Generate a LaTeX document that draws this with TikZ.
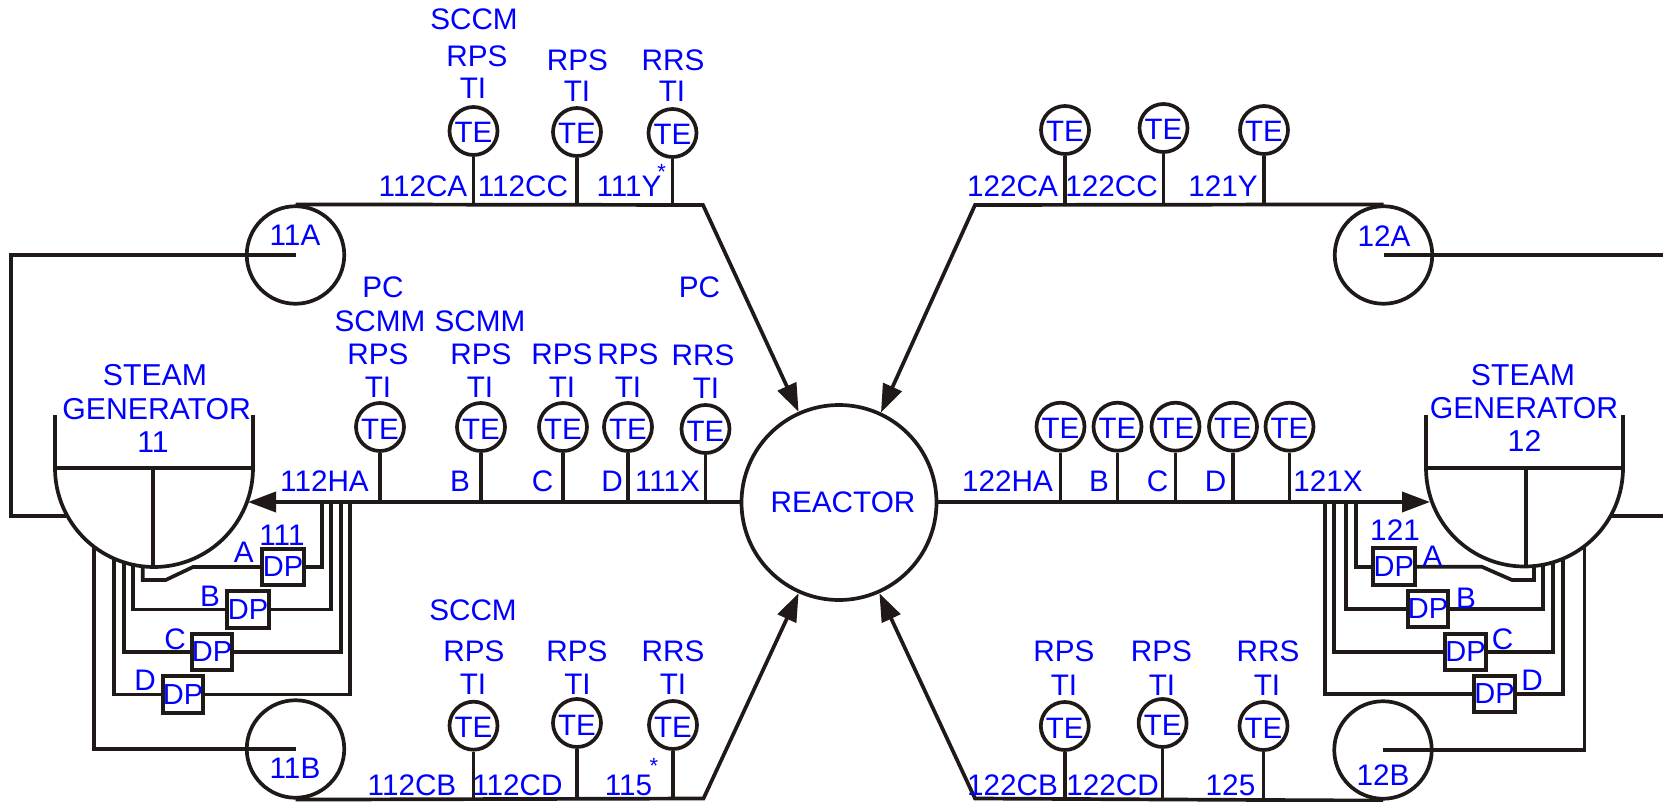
\documentclass[tikz,border=0pt]{standalone}
\usepackage{fontspec}
\setmainfont{Liberation Sans}
\usetikzlibrary{arrows.meta}
\definecolor{colorA}{rgb}{0,0,1}
\definecolor{colorB}{rgb}{0.12,0.1,0.09}
\begin{document}
\begin{tikzpicture}[
		x=1pt,y=-1pt,
		pipe/.style={draw=colorB, line width=3.7pt},
		flow/.style={pipe, -{Triangle[length=28pt,width=20pt]}},
		lbl/.style={colorA, anchor=base, inner sep=0pt, font=\fontsize{29.7}{31}\selectfont},
		gen/.style={lbl, font=\fontsize{30.2}{31}\selectfont},
		star/.style={colorA, inner sep=0pt, font=\fontsize{22}{22}\selectfont},
		te/.style={pipe, circle, fill=white, text=colorA, inner sep=0pt, minimum size=48pt, text height=24pt, font=\fontsize{29.5}{31}\selectfont},
		loopc/.style={pipe, circle, inner sep=0pt, minimum size=97.5pt},
		dp/.style={pipe, fill=white, text=colorA, inner sep=0pt, line width=4pt, minimum width=40.5pt, minimum height=36.5pt, font=\fontsize{29}{31}\selectfont},
	]
		\useasboundingbox (0,0) rectangle (1663,802);
		%
		\node[pipe, circle, inner sep=0pt, minimum size=195pt, text=colorA, font=\fontsize{29.7}{31}\selectfont] (reactor) at (839,502.5) {\hspace*{8pt}REACTOR};
		%
		\node[loopc] (loopA) at (295.5,255) {};
		\node[loopc] (loopB) at (295.5,749) {};
		\node[loopc] (loopC) at (1383.5,255) {};
		\node[loopc] (loopD) at (1383,750) {};
		\coordinate (cornerA) at (703,205);
		\coordinate (cornerB) at (703.5,798.5);
		\coordinate (cornerC) at (975,205);
		\coordinate (cornerD) at (975,798.5);
		%
		\draw[flow] (loopA.north) -- (cornerA) -- (reactor.114.5);
		\draw[flow] (loopB.south) -- (cornerB) -- (reactor.246);
		\draw[flow] (loopC.north) -- (cornerC) -- (reactor.65);
		\draw[flow] (loopD.south) -- (cornerD) -- (reactor.294);
		%
		% steam generators
		\coordinate (genL) at (55,468);
		\coordinate (genR) at (253,468);
		\coordinate (genM) at (152.7,468);
		\coordinate (genLt) at (55,415);
		\coordinate (genRt) at (253,415);
		\coordinate (genMb) at (152.7,567);
		\draw[pipe] (genLt) -- (genL) arc[start angle=180, end angle=360, radius=99pt] -- (genRt);
		\draw[pipe] (genL) -- (genR);
		\draw[pipe] (genM) -- (genMb);
		%
		\coordinate (genPL) at (1426,468);
		\coordinate (genPR) at (1623,468);
		\coordinate (genPM) at (1525.7,468);
		\coordinate (genPLt) at (1426,415);
		\coordinate (genPRt) at (1623,415);
		\coordinate (genPMb) at (1525.7,567);
		\draw[pipe] (genPLt) -- (genPL) arc[start angle=180, end angle=360, radius=98.5pt] -- (genPRt);
		\draw[pipe] (genPL) -- (genPR);
		\draw[pipe] (genPM) -- (genPMb);
		%
		% main lines
		\coordinate (inL) at (248,502);
		\coordinate (inR) at (1430,502);
		\draw[flow] (reactor.west |- inL) -- (inL);
		\draw[flow] (reactor.east |- inR) -- (inR);
		%
		% loop to generator
		\coordinate (edgeA) at (11,515.7);
		\coordinate (sgA) at (66,515.7);
		\coordinate (sgB) at (94.3,547);
		\coordinate (edgeC) at (1663,255);
		\coordinate (sgC) at (1611,515.7);
		\coordinate (edgeD) at (1663,515.7);
		\coordinate (sgD) at (1584.5,546.5);
		\draw[pipe] (loopA.center) -| (edgeA) -- (sgA);
		\draw[pipe] (sgB) |- (loopB.center);
		\draw[pipe] (loopC.center) -- (edgeC);
		\draw[pipe] (sgC) -- (edgeD);
		\draw[pipe] (loopD.center) -| (sgD);
		%
		% dp cells
		\node[dp, minimum width=42.5pt] (dpA) at (283,567) {DP};
		\node[dp, minimum width=42.5pt] (dpB) at (248,609.5) {DP};
		\node[dp] (dpC) at (212,652) {DP};
		\node[dp] (dpD) at (183,694.5) {DP};
		\node[dp, minimum width=42pt] (dpE) at (1393.7,566.7) {DP};
		\node[dp] (dpF) at (1428,609) {DP};
		\node[dp] (dpG) at (1465.5,652) {DP};
		\node[dp] (dpH) at (1494.5,694) {DP};
		%
		\coordinate (teeA) at (321.7,502);
		\coordinate (teeB) at (331,502);
		\coordinate (teeC) at (340.7,502);
		\coordinate (teeD) at (350,502);
		\coordinate (teeE) at (1355.7,502);
		\coordinate (teeF) at (1346,502);
		\coordinate (teeG) at (1334.3,502);
		\coordinate (teeH) at (1325,502);
		\draw[pipe] (teeA) |- (dpA.east);
		\draw[pipe] (teeB) |- (dpB.east);
		\draw[pipe] (teeC) |- (dpC.east);
		\draw[pipe] (teeD) |- (dpD.east);
		\draw[pipe] (teeE) |- (dpE.west);
		\draw[pipe] (teeF) |- (dpF.west);
		\draw[pipe] (teeG) |- (dpG.west);
		\draw[pipe] (teeH) |- (dpH.west);
		%
		\coordinate (bendA) at (193,567);
		\coordinate (bendB) at (165.7,580);
		\coordinate (bendC) at (142.7,580);
		\coordinate (tapA) at (142.7,566.5);
		\coordinate (tapB) at (133,565);
		\coordinate (tapC) at (124,562);
		\coordinate (tapD) at (114,558.5);
		\coordinate (bendE) at (1481.7,566.7);
		\coordinate (bendF) at (1512,580);
		\coordinate (bendG) at (1534,580);
		\coordinate (tapE) at (1534,566.5);
		\coordinate (tapF) at (1543,565);
		\coordinate (tapG) at (1552.7,562);
		\coordinate (tapH) at (1562.7,559);
		\draw[pipe] (dpA.west) -- (bendA) -- (bendB) -- (bendC) -- (tapA);
		\draw[pipe] (tapB) |- (dpB.west);
		\draw[pipe] (tapC) |- (dpC.west);
		\draw[pipe] (tapD) |- (dpD.west);
		\draw[pipe] (dpE.east) -- (bendE) -- (bendF) -- (bendG) -- (tapE);
		\draw[pipe] (tapF) |- (dpF.east);
		\draw[pipe] (tapG) |- (dpG.east);
		\draw[pipe] (tapH) |- (dpH.east);
		%
		% temperature elements
		\node[te] (teA) at (473.5,131) {TE};
		\node[te] (teB) at (577,132) {TE};
		\node[te] (teC) at (672.5,133) {TE};
		\draw[pipe] (teA) -- (teA |- cornerA);
		\draw[pipe] (teB) -- (teB |- cornerA);
		\draw[pipe] (teC) -- (teC |- cornerA);
		%
		\node[te] (teD) at (380,427) {TE};
		\node[te] (teE) at (481,427) {TE};
		\node[te] (teF) at (563,427) {TE};
		\node[te] (teG) at (628,427) {TE};
		\node[te] (teH) at (705.5,429) {TE};
		\draw[pipe] (teD) -- (teD |- inL);
		\draw[pipe] (teE) -- (teE |- inL);
		\draw[pipe] (teF) -- (teF |- inL);
		\draw[pipe] (teG) -- (teG |- inL);
		\draw[pipe] (teH) -- (teH |- inL);
		%
		\node[te] (teI) at (473.5,725.7) {TE};
		\node[te] (teJ) at (577,723) {TE};
		\node[te] (teK) at (673,725) {TE};
		\draw[pipe] (teI) -- (teI |- cornerB);
		\draw[pipe] (teJ) -- (teJ |- cornerB);
		\draw[pipe] (teK) -- (teK |- cornerB);
		%
		\node[te] (teL) at (1065,130) {TE};
		\node[te] (teM) at (1163.5,128) {TE};
		\node[te] (teN) at (1264,130) {TE};
		\draw[pipe] (teL) -- (teL |- cornerC);
		\draw[pipe] (teM) -- (teM |- cornerC);
		\draw[pipe] (teN) -- (teN |- cornerC);
		%
		\node[te] (teO) at (1060.5,426.7) {TE};
		\node[te] (teP) at (1117.5,426.7) {TE};
		\node[te] (teQ) at (1175.5,426.7) {TE};
		\node[te] (teR) at (1233,426.7) {TE};
		\node[te] (teS) at (1289.5,426.7) {TE};
		\draw[pipe] (teO) -- (teO |- inR);
		\draw[pipe] (teP) -- (teP |- inR);
		\draw[pipe] (teQ) -- (teQ |- inR);
		\draw[pipe] (teR) -- (teR |- inR);
		\draw[pipe] (teS) -- (teS |- inR);
		%
		\node[te] (teT) at (1064.8,726) {TE};
		\node[te] (teU) at (1162.6,723) {TE};
		\node[te] (teV) at (1263.5,726) {TE};
		\draw[pipe] (teT) -- (teT |- cornerD);
		\draw[pipe] (teU) -- (teU |- cornerD);
		\draw[pipe] (teV) -- (teV |- cornerD);
		%
		% labels, upper left
		\node[lbl] (ltA) at (474,30) {SCCM};
		\node[lbl] (ltB) at (477,67) {RPS};
		\node[lbl] (ltC) at (473,99) {TI};
		\node[lbl] (ltD) at (577.5,71) {RPS};
		\node[lbl] (ltE) at (577,102) {TI};
		\node[lbl] (ltF) at (673,71) {RRS};
		\node[lbl] (ltG) at (672,102) {TI};
		\node[lbl] (ltH) at (423,197) {112CA};
		\node[lbl] (ltI) at (523,197) {112CC};
		\node[lbl] (ltJ) at (629,197) {111Y};
		\node[star] (ltK) at (661.7,172) {*};
		\node[lbl] (ltL) at (295,246) {11A};
		\node[lbl] (ltM) at (699.5,298) {PC};
		%
		% labels, middle left
		\node[lbl] (lmA) at (383,298) {PC};
		\node[lbl] (lmB) at (380,332) {SCMM};
		\node[lbl] (lmC) at (378,365) {RPS};
		\node[lbl] (lmD) at (378,397) {TI};
		\node[lbl] (lmE) at (480,332) {SCMM};
		\node[lbl] (lmF) at (481,365) {RPS};
		\node[lbl] (lmG) at (480,397) {TI};
		\node[lbl] (lmH) at (562,365) {RPS};
		\node[lbl] (lmI) at (562,397) {TI};
		\node[lbl] (lmJ) at (628,365) {RPS};
		\node[lbl] (lmK) at (628,397) {TI};
		\node[lbl] (lmL) at (703,366) {RRS};
		\node[lbl] (lmM) at (706,398) {TI};
		\node[lbl] (lmN) at (324.5,491.7) {112HA};
		\node[lbl] (lmO) at (460,491.7) {B};
		\node[lbl] (lmP) at (542.5,491.7) {C};
		\node[lbl] (lmQ) at (612,491.7) {D};
		\node[lbl] (lmR) at (667.5,491.7) {111X};
		%
		\node[gen] (lmS) at (155,385) {STEAM};
		\node[gen] (lmT) at (156.7,419) {GENERATOR};
		\node[gen] (lmU) at (153,452) {11};
		\node[lbl] (lmV) at (282,545) {111};
		\node[lbl] (lmW) at (243.7,562) {A};
		\node[lbl] (lmX) at (210,606.7) {B};
		\node[lbl] (lmY) at (175,649) {C};
		\node[lbl] (lmZ) at (145,690) {D};
		%
		% labels, lower left
		\node[lbl] (lbA) at (473,620.7) {SCCM};
		\node[lbl] (lbB) at (474,661.7) {RPS};
		\node[lbl] (lbC) at (473,694) {TI};
		\node[lbl] (lbD) at (577,661.7) {RPS};
		\node[lbl] (lbE) at (577.5,694) {TI};
		\node[lbl] (lbF) at (673,661.7) {RRS};
		\node[lbl] (lbG) at (673,694) {TI};
		\node[lbl] (lbH) at (412,795) {112CB};
		\node[lbl] (lbI) at (517.5,795) {112CD};
		\node[lbl] (lbJ) at (628.5,795) {115};
		\node[star] (lbK) at (654,766) {*};
		\node[lbl] (lbL) at (295,778) {11B};
		%
		% labels, upper right
		\node[lbl] (rtA) at (1012.5,196.7) {122CA};
		\node[lbl] (rtB) at (1111.5,196.7) {122CC};
		\node[lbl] (rtC) at (1223,196.7) {121Y};
		\node[lbl] (rtD) at (1384,247) {12A};
		%
		% labels, middle right
		\node[lbl] (rmA) at (1007.5,491.7) {122HA};
		\node[lbl] (rmB) at (1099,491.7) {B};
		\node[lbl] (rmC) at (1157.5,491.7) {C};
		\node[lbl] (rmD) at (1215.5,491.7) {D};
		\node[lbl] (rmE) at (1328,491.7) {121X};
		\node[gen] (rmF) at (1523,385.7) {STEAM};
		\node[gen] (rmG) at (1524,418) {GENERATOR};
		\node[gen] (rmH) at (1524.5,451.7) {12};
		\node[lbl] (rmI) at (1395,540) {121};
		\node[lbl] (rmJ) at (1432.5,566.7) {A};
		\node[lbl] (rmK) at (1466,608) {B};
		\node[lbl] (rmL) at (1502.5,649) {C};
		\node[lbl] (rmM) at (1532,690) {D};
		%
		% labels, lower right
		\node[lbl] (rbA) at (1064,661.7) {RPS};
		\node[lbl] (rbB) at (1064,695) {TI};
		\node[lbl] (rbC) at (1161.5,661.7) {RPS};
		\node[lbl] (rbD) at (1162,695) {TI};
		\node[lbl] (rbE) at (1268,661.7) {RRS};
		\node[lbl] (rbF) at (1267,695) {TI};
		\node[lbl] (rbG) at (1012.5,795) {122CB};
		\node[lbl] (rbH) at (1112.5,795) {122CD};
		\node[lbl] (rbI) at (1230.5,795) {125};
		\node[lbl] (rbJ) at (1383,785) {12B};
	\end{tikzpicture}
\end{document}
